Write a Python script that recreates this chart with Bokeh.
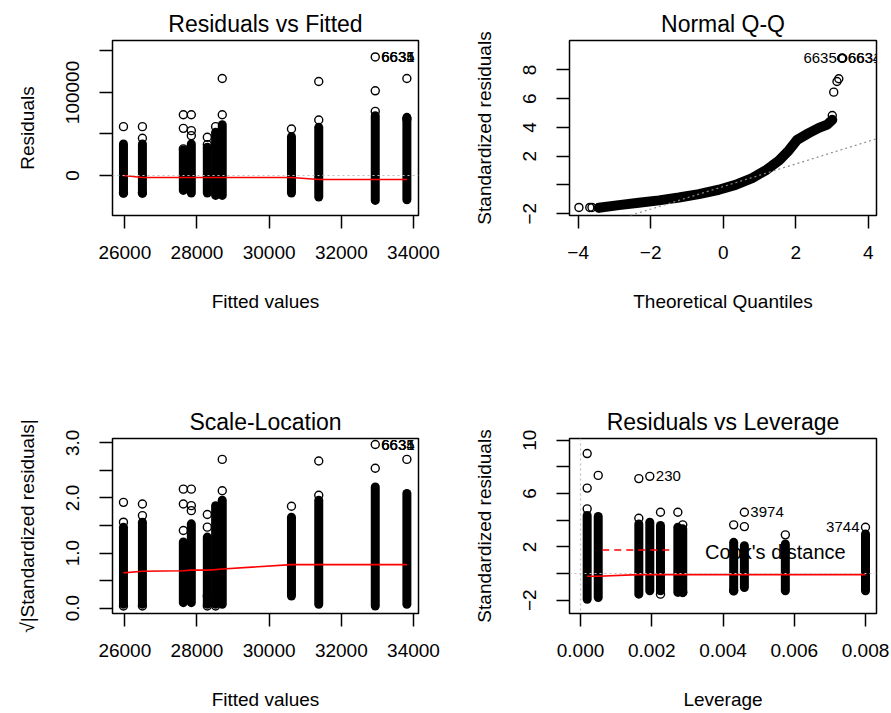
from bokeh.plotting import figure
from bokeh.layouts import column, row
from bokeh.models import Range1d, FixedTicker, NumeralTickFormatter, Span, Slope
from bokeh.core.properties import value
from bokeh.embed import file_html
from bokeh.resources import INLINE

FONT = "Liberation Sans"

# ---------------- data ----------------
fitted = [25963, 26488, 27622, 27843, 28286, 28516, 28700, 30618, 31374, 32940, 33816]
fitted_ticks = [26000, 28000, 30000, 32000, 34000]

# Residuals vs Fitted
resid_low = [-21200, -21200, -18000, -21200, -21200, -24000, -24000, -21200, -26000, -30000, -29200]
resid_high = [38000, 38000, 30800, 38000, 34000, 52000, 61200, 46800, 58000, 72000, 70000]
resid_out_x = [25963, 25963, 26488, 26488, 26488, 27622, 27622, 27622, 27843, 27843, 27843,
               28286, 28286, 28516, 28700, 28700, 30618, 31374, 31374, 32940, 32940, 32940,
               33816, 33816]
resid_out_y = [58800, -21200, 58800, 44800, -21200, 73200, 56800, 32000, 73200, 54000, 48000,
               46000, 37200, 58800, 116800, 73200, 56000, 113200, 66800, 142800, 102000, 77200,
               116800, 68000]
resid_smooth = [0, -2400, -2400, -2400, -2400, -2400, -2400, -2400, -4800, -4800, -4800]
resid_id_x = [32940, 32940, 32940]
resid_id_y = [142800, 142800, 142800]
id_labels = ["6635", "6634", "6631"]
resid_yticks = [0, 100000]
resid_yminor = [50000, 150000]

# Normal Q-Q
qq_x = [-3.43, -2.88, -2.33, -1.77, -1.22, -0.67, -0.12, 0.34, 0.80, 1.17, 1.54, 1.81,
        2.04, 2.36, 2.64, 2.87, 3.01]
qq_y = [-1.58, -1.40, -1.24, -1.07, -0.87, -0.63, -0.33, 0.01, 0.48, 1.01, 1.70, 2.40,
        3.14, 3.60, 3.97, 4.20, 4.53]
qq_pt_x = [-3.98, -3.68, -3.62, -3.43, 3.01, 3.05, 3.14, 3.19, 3.27, 3.28, 3.30]
qq_pt_y = [-1.56, -1.56, -1.56, -1.58, 4.83, 6.45, 7.19, 7.38, 8.81, 8.81, 8.81]
qq_id_x = [3.30, 3.27, 3.28]
qq_id_y = [8.81, 8.81, 8.81]
qq_line_intercept = -0.11
qq_line_slope = 0.785
qq_xticks = [-4, -2, 0, 2, 4]
qq_yticks = [-2, 2, 4, 6, 8]
qq_yminor = [0]

# Scale-Location
sl_low = [0.07, 0.07, 0.10, 0.10, 0.07, 0.07, 0.07, 0.22, 0.07, 0.04, 0.07]
sl_high = [1.47, 1.56, 1.20, 1.53, 1.29, 1.86, 1.96, 1.65, 1.96, 2.20, 2.08]
sl_out_x = [25963, 25963, 25963, 26488, 26488, 26488, 27622, 27622, 27622, 27843, 27843, 27843,
            28286, 28286, 28286, 28286, 28516, 28700, 28700, 30618, 31374, 31374, 32940, 32940,
            33816]
sl_out_y = [1.92, 1.56, 0.04, 1.89, 1.68, 0.04, 2.16, 1.89, 1.41, 2.16, 1.86, 1.77,
            1.70, 1.47, 0.22, 0.04, 0.04, 2.70, 2.13, 1.85, 2.67, 2.05, 2.97, 2.54,
            2.70]
sl_smooth = [0.64, 0.67, 0.68, 0.69, 0.69, 0.70, 0.71, 0.79, 0.79, 0.79, 0.79]
sl_id_x = [32940, 32940, 32940]
sl_id_y = [2.97, 2.97, 2.97]
sl_yticks = [0, 1, 2, 3]
sl_yminor = [0.5, 1.5, 2.5]

# Residuals vs Leverage
lev = [0.000187, 0.000497, 0.001637, 0.001945, 0.002245, 0.002732, 0.00287, 0.0043, 0.0046,
       0.00575, 0.0080]
lev_low = [-1.93, -1.80, -1.55, -1.30, -1.30, -1.42, -1.42, -1.30, -1.05, -1.30, -1.30]
lev_high = [4.35, 4.28, 3.72, 3.85, 3.60, 3.47, 3.35, 2.34, 2.09, 2.22, 2.97]
lev_out_x = [0.000187, 0.000187, 0.000187, 0.000497, 0.001637, 0.001637, 0.001945, 0.002245,
             0.002245, 0.002732, 0.00287, 0.00287, 0.0043, 0.0043, 0.0046, 0.0046, 0.00575, 0.0080]
lev_out_y = [9.0, 6.41, 4.85, 7.36, 7.12, 4.15, 7.29, 4.60, -1.55, 4.60, 3.65, -1.42, 3.65,
             -1.30, 4.60, 3.52, 2.90, 3.47]
lev_smooth = [-0.20, -0.20, -0.08, -0.08, -0.08, -0.08, -0.08, -0.08, -0.08, -0.08, -0.08]
lev_id_right_x = [0.001945, 0.0046]
lev_id_right_y = [7.29, 4.60]
lev_id_right = ["230", "3974"]
lev_id_left_x = [0.0080]
lev_id_left_y = [3.47]
lev_id_left = ["3744"]
cook_x = [0.00061, 0.00257]
cook_y = [1.76, 1.76]
cook_label_x = [0.00547]
cook_label_y = [1.59]
lev_xticks = [0.000, 0.002, 0.004, 0.006, 0.008]
lev_yticks = [-2, 2, 6, 10]
lev_yminor = [0, 4, 8]


def make_fig(title, w, h, left, right, top, bottom, xr, yr, xlab, ylab):
    p = figure(width=w, height=h, output_backend="svg", toolbar_location=None,
               x_range=Range1d(*xr), y_range=Range1d(*yr),
               min_border_left=left, min_border_right=right,
               min_border_top=top, min_border_bottom=bottom)
    p.title.text = title
    p.title.text_font = FONT
    p.title.text_font_size = "23px"
    p.title.text_font_style = "normal"
    p.title.align = "center"
    p.title.text_color = "black"
    p.title.standoff = 7
    p.grid.visible = False
    p.outline_line_color = "black"
    p.outline_line_width = 1.5
    p.outline_line_alpha = 1
    p.background_fill_color = "white"
    p.border_fill_color = "white"
    for ax in (p.xaxis[0], p.yaxis[0]):
        ax.axis_line_color = None
        ax.major_tick_in = 0
        ax.major_tick_out = 13
        ax.major_tick_line_width = 1.5
        ax.major_tick_line_color = "black"
        ax.minor_tick_in = 0
        ax.minor_tick_out = 13
        ax.minor_tick_line_width = 1.5
        ax.minor_tick_line_color = "black"
        ax.major_label_text_font = FONT
        ax.major_label_text_font_size = "19px"
        ax.major_label_text_color = "black"
        ax.axis_label_text_font = FONT
        ax.axis_label_text_font_size = "19px"
        ax.axis_label_text_font_style = "normal"
        ax.axis_label_text_color = "black"
    p.xaxis.axis_label = xlab
    p.yaxis.axis_label = ylab
    p.xaxis.major_label_standoff = 17
    p.xaxis.axis_label_standoff = 29
    p.yaxis.major_label_orientation = "vertical"
    p.yaxis.major_label_standoff = 20
    p.yaxis.axis_label_standoff = 26
    return p


def columns(p, x, lo, hi):
    p.segment(x0=x, y0=lo, x1=x, y1=hi, line_width=9, line_color="black", line_cap="round")


def points(p, x, y):
    p.scatter(x=x, y=y, marker="circle", size=8, fill_color=None,
              line_color="black", line_width=1.4)


def labels(p, x, y, t, side="right"):
    p.text(x=x, y=y, text=t, text_font=value(FONT), text_font_size="15px",
           text_color="black", text_baseline="middle",
           text_align="left" if side == "right" else "right",
           x_offset=6 if side == "right" else -6)


# ---------- Panel 1: Residuals vs Fitted ----------
p1 = make_fig("Residuals vs Fitted", 445, 356, 112, 27, 40, 141,
              (25659, 34138), (-48200, 162600), "Fitted values", "Residuals")
p1.xaxis.ticker = FixedTicker(ticks=fitted_ticks)
p1.xaxis.formatter = NumeralTickFormatter(format="0")
p1.yaxis.ticker = FixedTicker(ticks=resid_yticks, minor_ticks=resid_yminor)
p1.yaxis.formatter = NumeralTickFormatter(format="0")
p1.add_layout(Span(location=0, dimension="width", line_color="#bebebe", line_dash="2 3",
                   line_width=1.2))
columns(p1, fitted, resid_low, resid_high)
points(p1, resid_out_x, resid_out_y)
p1.line(fitted, resid_smooth, line_color="red", line_width=1.6)
labels(p1, resid_id_x, resid_id_y, id_labels)

# ---------- Panel 2: Normal Q-Q ----------
p2 = make_fig("Normal Q-Q", 446, 356, 124, 15, 40, 141,
              (-4.24, 4.23), (-2.12, 10.04), "Theoretical Quantiles", "Standardized residuals")
p2.xaxis.ticker = FixedTicker(ticks=qq_xticks)
p2.yaxis.ticker = FixedTicker(ticks=qq_yticks, minor_ticks=qq_yminor)
p2.add_layout(Slope(gradient=qq_line_slope, y_intercept=qq_line_intercept,
                    line_color="#8c8c8c", line_dash="2 3", line_width=1.2))
p2.line(qq_x, qq_y, line_width=10, line_color="black", line_cap="round", line_join="round")
points(p2, qq_pt_x, qq_pt_y)
labels(p2, qq_id_x[:1], qq_id_y[:1], id_labels[:1], side="left")
labels(p2, qq_id_x[1:], qq_id_y[1:], id_labels[1:], side="right")

# ---------- Panel 3: Scale-Location ----------
p3 = make_fig("Scale-Location", 445, 357, 112, 27, 82, 100,
              (25659, 34138), (-0.097, 3.079), "Fitted values", "\u221a|Standardized residuals|")
p3.xaxis.ticker = FixedTicker(ticks=fitted_ticks)
p3.xaxis.formatter = NumeralTickFormatter(format="0")
p3.yaxis.ticker = FixedTicker(ticks=sl_yticks, minor_ticks=sl_yminor)
p3.yaxis.formatter = NumeralTickFormatter(format="0.0")
columns(p3, fitted, sl_low, sl_high)
points(p3, sl_out_x, sl_out_y)
p3.line(fitted, sl_smooth, line_color="red", line_width=1.6)
labels(p3, sl_id_x, sl_id_y, id_labels)

# ---------- Panel 4: Residuals vs Leverage ----------
p4 = make_fig("Residuals vs Leverage", 446, 357, 124, 15, 82, 100,
              (-0.000309, 0.008309), (-3.0, 10.13), "Leverage", "Standardized residuals")
p4.xaxis.ticker = FixedTicker(ticks=lev_xticks)
p4.xaxis.formatter = NumeralTickFormatter(format="0.000")
p4.yaxis.ticker = FixedTicker(ticks=lev_yticks, minor_ticks=lev_yminor)
p4.add_layout(Span(location=0, dimension="width", line_color="#bebebe", line_dash="2 3",
                   line_width=1.2))
p4.add_layout(Span(location=0, dimension="height", line_color="#bebebe", line_dash="2 3",
                   line_width=1.2))
columns(p4, lev, lev_low, lev_high)
points(p4, lev_out_x, lev_out_y)
p4.line(lev, lev_smooth, line_color="red", line_width=1.6)
p4.line(cook_x, cook_y, line_color="red", line_width=1.6, line_dash="7 5")
labels(p4, lev_id_right_x, lev_id_right_y, lev_id_right, side="right")
labels(p4, lev_id_left_x, lev_id_left_y, lev_id_left, side="left")
p4.text(x=cook_label_x, y=cook_label_y, text=["Cook's distance"], text_font=value(FONT),
        text_font_size="20px", text_color="black", text_align="center",
        text_baseline="middle")

layout = column(row(p1, p2), row(p3, p4))
open("out.html", "w").write(file_html(layout, INLINE))
